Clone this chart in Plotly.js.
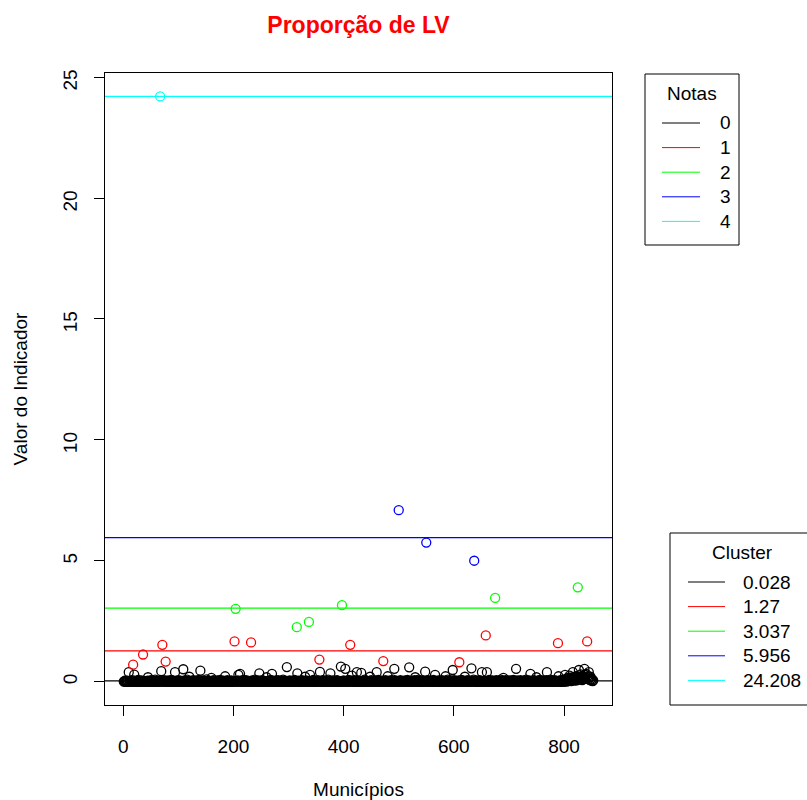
<!DOCTYPE html>
<html>
<head>
<meta charset="utf-8">
<script src="https://cdn.plot.ly/plotly-3.0.1.min.js"></script>
<style>html,body{margin:0;padding:0;background:#fff}#chart{width:807px;height:800px}</style>
</head>
<body>
<div id="chart"></div>
<script>
// Valor do indicador por município (ordem 1..853)
const valores = [
0,0.02,0,0.05,0,0.01,0,0.03,0,0.39, 0,0.04,0,0,0.02,0,0.06,0.70,0,0.29,
0,0.01,0,0,0.03,0,0.07,0,0,0.02, 0,0,0.05,0,0.01,1.12,0,0.03,0,0,
0.02,0,0,0.04,0.18,0,0,0.01,0,0.06, 0,0.02,0,0,0.03,0,0,0.08,0,0.01,
0,0.03,0,0.01,0,0.05,24.208,0,0.43,0, 1.52,0.02,0,0.06,0,0.01,0.83,0,0.04,0,
0.01,0,0.05,0,0,0.02,0,0.07,0,0.03, 0,0,0.01,0.39,0,0.04,0,0,0.02,0,
0.06,0,0.01,0,0.03,0,0,0.02,0.51,0, 0.05,0,0,0.01,0,0.08,0,0.02,0,0.20,
0,0.03,0,0,0.01,0,0.06,0,0.02,0, 0,0.04,0,0.01,0,0,0.07,0,0.02,0.45,
0,0.01,0,0.05,0,0,0.02,0,0.03,0, 0.09,0,0,0.01,0,0.04,0,0.02,0,0.15,
0,0.02,0,0.06,0,0.01,0,0,0.03,0, 0.05,0,0.01,0,0,0.07,0,0.02,0,0.01,
0,0.04,0,0,0.22,0,0.02,0,0.06,0, 0.01,0,0.03,0,0,0.05,0,0.01,0,0.02,
0,1.66,0.03,3.01,0,0.01,0,0.05,0.28,0, 0.02,0.32,0,0.04,0,0.01,0,0.07,0,0.02,
0.01,0,0.06,0,0.02,0,0,0.03,0,0.01, 0,1.62,0,0.05,0,0.02,0,0,0.08,0,
0.03,0,0.01,0,0.05,0,0.34,0,0.02,0, 0,0.06,0,0.01,0,0.03,0,0.02,0,0.18,
0,0.01,0,0.04,0,0.02,0,0.07,0,0.32, 0,0.03,0,0,0.01,0,0.05,0,0.02,0,
0.06,0,0.01,0,0.03,0,0,0.02,0,0.08, 0,0.01,0,0.04,0,0,0.60,0,0.02,0,
0,0.05,0,0.01,0,0.03,0,0,0.02,0, 0.07,0,0.01,0,2.25,0.34,0,0.04,0,0.01,
0,0.02,0,0.06,0,0.01,0,0.03,0,0.20, 0,0.05,0,0.01,0,0.02,2.47,0,0.28,0,
0.03,0,0.01,0,0.07,0,0.02,0,0,0.04, 0,0.01,0,0.05,0,0.91,0.40,0,0.02,0,
0.01,0,0.06,0,0.02,0,0,0.03,0,0.01, 0,0.08,0,0.02,0,0.34,0,0.01,0,0.05,
0,0.02,0,0.04,0,0.01,0,0.06,0,0.03, 0,0,0.01,0,0.62,0,3.16,0.02,0,0.05,
0.01,0,0.53,0,0.03,0,0.02,0,0.07,0, 0.01,1.52,0,0.04,0.25,0,0.02,0,0.06,0,
0,0.01,0,0.39,0,0.05,0,0.02,0,0.01, 0,0.36,0,0.03,0,0.01,0,0.08,0,0.02,
0,0.04,0,0.01,0,0.02,0,0.20,0,0.06, 0,0.01,0,0.03,0,0.02,0,0.05,0,0.39,
0.01,0,0.07,0,0.02,0,0.01,0,0.04,0, 0.03,0.85,0,0.01,0,0.06,0,0.02,0,0.22,
0,0.02,0,0.05,0,0.01,0,0.03,0,0.08, 0,0.53,0,0.01,0,0.04,0,0.02,0,7.09,
0.01,0,0.06,0,0.02,0,0,0.03,0,0.01, 0,0.05,0,0.02,0,0.07,0,0.01,0.59,0,
0.03,0,0.01,0,0.04,0,0.02,0,0.06,0.18, 0,0.01,0,0.03,0,0.08,0,0.02,0,0.01,
0,0.05,0,0.01,0,0.02,0,0.41,0,5.75, 0.03,0,0.06,0,0.01,0,0.04,0,0.02,0,
0.01,0,0.07,0,0.02,0.28,0,0.03,0,0.01, 0,0.05,0,0.02,0,0.01,0,0.06,0,0.03,
0,0.01,0,0.04,0.22,0,0.02,0,0.08,0, 0.01,0,0.03,0,0.05,0,0.02,0.48,0,0.01,
0.06,0,0.01,0,0.03,0,0.02,0,0.05,0.80, 0,0.01,0,0.07,0,0.02,0,0.04,0,0.20,
0.01,0,0.03,0,0.06,0,0.02,0,0.01,0, 0.04,0.55,0,0.02,0,0.08,5.00,0,0.01,0,
0.05,0,0.02,0,0.01,0,0.06,0,0.03,0, 0.39,0,0.01,0,0.04,0,0.02,1.91,0,0.39,
0,0.02,0,0.07,0,0.01,0,0.03,0,0.05, 0,0.01,0,0.02,3.46,0,0.06,0,0.01,0,
0.03,0,0.02,0,0.08,0,0.01,0,0.04,0.15, 0,0.02,0,0.06,0,0.01,0,0.03,0,0.05,
0,0.01,0,0.04,0,0.02,0,0.07,0,0.01, 0,0.03,0.53,0,0.05,0,0.02,0,0.01,0,
0.06,0,0.02,0,0.01,0,0.04,0,0.03,0, 0.08,0,0.01,0,0.02,0,0.05,0,0.32,0,
0.01,0,0.03,0,0.06,0,0.02,0,0.01,0.18, 0,0.04,0,0.02,0,0.07,0,0.01,0,0.03,
0,0.05,0,0.01,0,0.02,0,0.06,0.39,0, 0.03,0,0.01,0,0.08,0,0.02,0,0.04,0,
0.01,0,0.06,0,0.02,0,0.03,0,1.59,0.22, 0,0.05,0,0.01,0,0.07,0,0.02,0,0.04,
0,0.28,0.03,0.12,0,0.08,0.15,0.05,0.1,0.25, 0.06,0.14,0.02,0.09,0.18,0.39,0.07,0.12,0.04,0.2,
0.1,0.22,0.05,0.16,3.90,0.12,0.48,0.08,0.26,0.30, 0.14,0.2,0.06,0.24,0.1,0.18,0.53,0.12,0.28,0.32,
0.15,1.66,0.22,0.1,0.39,0.18,0.06,0.20,0.12,0.04,0.09,0.02,0.05
];
// Centros dos clusters
const centros = [0.028, 1.27, 3.037, 5.956, 24.208];
const notas = ["0", "1", "2", "3", "4"];
const cores = ["#000000", "#ff0000", "#00ff00", "#0000ff", "#00ffff"];
const xTicks = [0, 200, 400, 600, 800];
const yTicks = [0, 5, 10, 15, 20, 25];

const FONT = "Liberation Sans, Arial, Helvetica, sans-serif";
const municipios = valores.map((v, i) => i + 1);

function clusterDe(v) {
  let best = 0;
  for (let k = 1; k < centros.length; k++) {
    if (Math.abs(v - centros[k]) < Math.abs(v - centros[best])) best = k;
  }
  return best;
}
const grupo = valores.map(clusterDe);

const traces = [];
for (let k = 0; k < centros.length; k++) {
  const xs = [], ys = [];
  valores.forEach((v, i) => { if (grupo[i] === k) { xs.push(municipios[i]); ys.push(v); } });
  traces.push({
    type: "scatter", mode: "markers", x: xs, y: ys, showlegend: false, hoverinfo: "skip",
    name: "Nota " + notas[k],
    marker: { symbol: "circle-open", size: 9, color: cores[k], line: { width: 1.3, color: cores[k] } }
  });
}

// Plot area in pixels (layout)
const M = { l: 105, r: 195, t: 73, b: 95 };
const W = 807, H = 800;
const PW = W - M.l - M.r, PH = H - M.t - M.b;
const px = x => (x - M.l) / PW;
const py = y => (H - M.b - y) / PH;

const shapes = centros.map((c, k) => ({
  type: "line", xref: "paper", x0: 0, x1: 1, yref: "y", y0: c, y1: c,
  line: { color: cores[k], width: 1.2 }, layer: "above"
}));
const annotations = [];

// Legend boxes drawn like R's legend()
function legenda(titulo, rotulos, box, tituloX, tituloY, lineX0, lineX1, textX, itemY) {
  shapes.push({ type: "rect", xref: "paper", yref: "paper",
    x0: px(box[0]), x1: px(box[1]), y0: py(box[3]), y1: py(box[2]),
    line: { color: "#000", width: 1 }, fillcolor: "#fff", layer: "above" });
  annotations.push({ xref: "paper", yref: "paper", x: px(tituloX), y: py(tituloY),
    xanchor: "center", yanchor: "middle", showarrow: false, text: titulo,
    font: { family: FONT, size: 19, color: "#000" } });
  rotulos.forEach((r, k) => {
    const y = itemY[0] + k * itemY[1];
    shapes.push({ type: "line", xref: "paper", yref: "paper",
      x0: px(lineX0), x1: px(lineX1), y0: py(y), y1: py(y),
      line: { color: cores[k], width: 1 }, layer: "above" });
    annotations.push({ xref: "paper", yref: "paper", x: px(textX), y: py(y),
      xanchor: "left", yanchor: "middle", showarrow: false, text: r,
      font: { family: FONT, size: 19, color: "#000" } });
  });
}
legenda("Notas", notas, [645, 739, 74, 245], 692, 94, 662, 700, 718, [123, 24.6]);
legenda("Cluster", centros.map(String), [670, 812, 533, 705], 742, 552, 688, 725, 741, [582, 24.6]);

const n = valores.length;
const xmin = 1, xmax = n;
const xpad = 0.04 * (xmax - xmin);
const ymin = Math.min(...valores), ymax = Math.max(...valores);
const ypad = 0.04 * (ymax - ymin);

const axisCommon = {
  showgrid: false, zeroline: false, showline: true, mirror: true,
  linecolor: "#000", linewidth: 1, ticks: "outside", ticklen: 10, tickwidth: 1,
  tickcolor: "#000", tickfont: { family: FONT, size: 19, color: "#000" }
};

const layout = {
  width: W, height: H, showlegend: false,
  paper_bgcolor: "#fff", plot_bgcolor: "#fff",
  margin: Object.assign({ autoexpand: false }, M),
  font: { family: FONT, size: 19, color: "#000" },
  title: {
    text: "<b>Proporção de LV</b>", font: { family: FONT, size: 23, color: "#ff0000" },
    x: 0.5, xref: "paper", xanchor: "center", y: 1 - 25 / H, yref: "container", yanchor: "middle"
  },
  xaxis: Object.assign({}, axisCommon, {
    range: [xmin - xpad, xmax + xpad], tickmode: "array", tickvals: xTicks,
    ticktext: xTicks.map(String), ticklabelstandoff: 14,
    title: { text: "Municípios", font: { family: FONT, size: 19 }, standoff: 30 }
  }),
  yaxis: Object.assign({}, axisCommon, {
    range: [ymin - ypad, ymax + ypad], tickmode: "array", tickvals: yTicks,
    ticktext: yTicks.map(String), tickangle: -89.9,
    ticklabelstandoff: 23, ticklabelshift: -5,
    title: { text: "Valor do Indicador", font: { family: FONT, size: 19 }, standoff: 27 }
  }),
  shapes: shapes,
  annotations: annotations
};

Plotly.newPlot("chart", traces, layout, { displayModeBar: false, staticPlot: true });
</script>
</body>
</html>
